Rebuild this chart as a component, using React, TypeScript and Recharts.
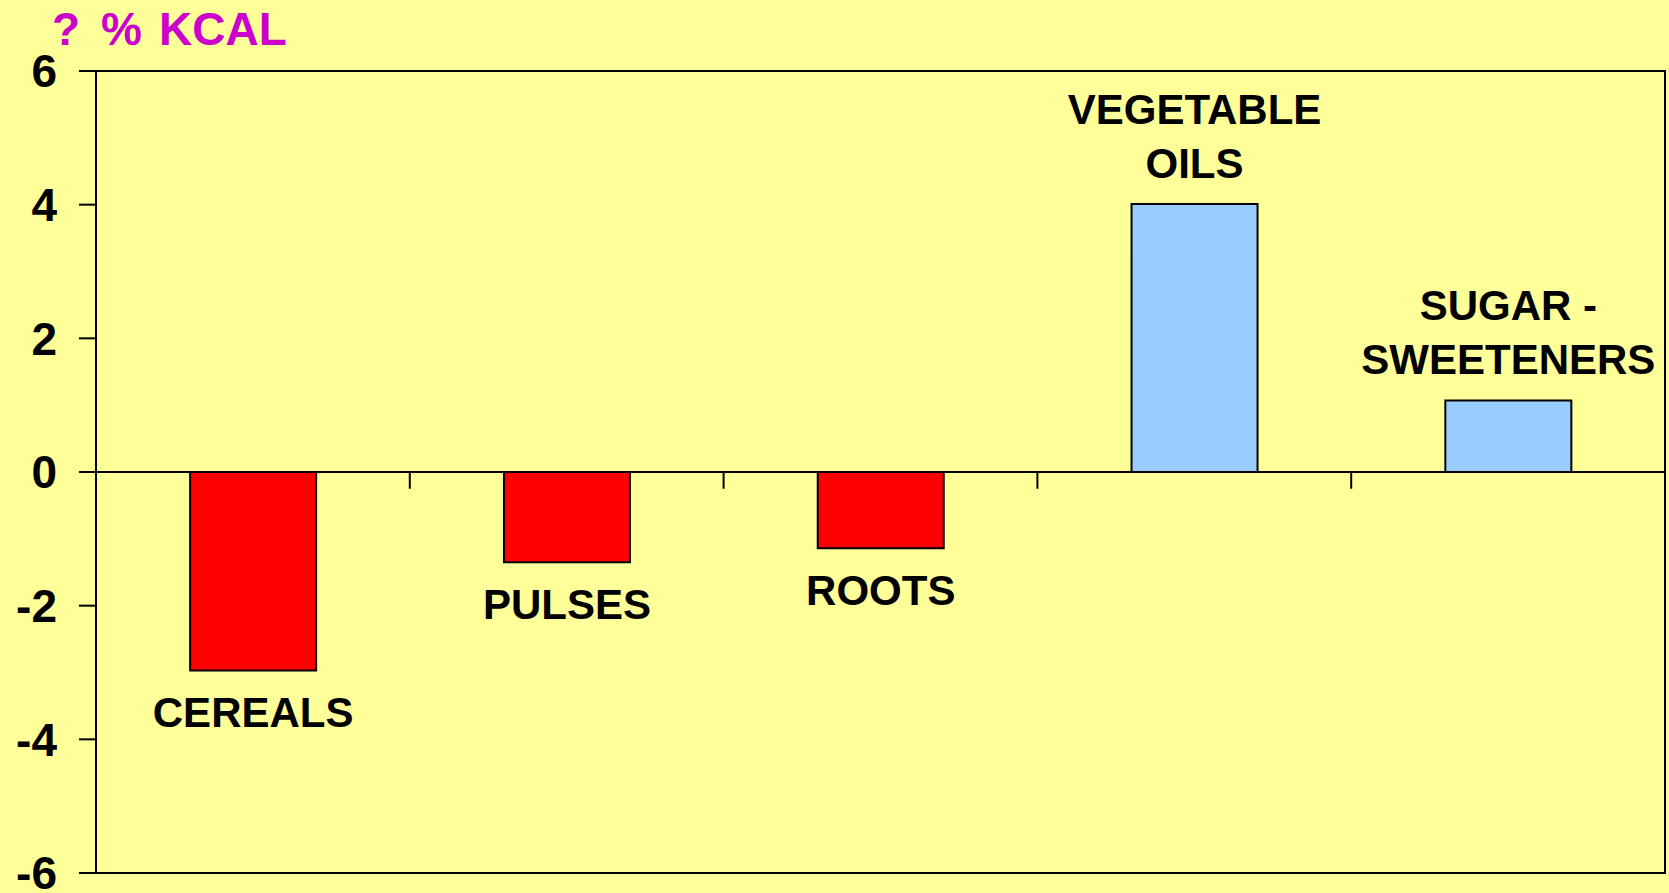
import { BarChart, Bar, XAxis, YAxis, Cell, LabelList, ReferenceLine, ReferenceArea } from 'recharts';

const CATEGORIES = ['CEREALS', 'PULSES', 'ROOTS', 'VEGETABLE OILS', 'SUGAR - SWEETENERS'];
const LABEL_LINES = [['CEREALS'], ['PULSES'], ['ROOTS'], ['VEGETABLE', 'OILS'], ['SUGAR -', 'SWEETENERS']];
const CHANGE_KCAL = [-2.97, -1.35, -1.14, 4.01, 1.07];
const Y_TICKS = [-6, -4, -2, 0, 2, 4, 6];
const CATEGORY_BOUNDS = [1, 2, 3, 4];

const FONT = '"Liberation Sans", Arial, sans-serif';
const BG = '#FFFF99';

const data = CATEGORIES.map((name, i) => ({ name, value: CHANGE_KCAL[i] }));

function BarLabel(props: any) {
  const { x, y, width, height, index } = props;
  const lines = LABEL_LINES[index];
  const top = Math.min(y, y + height);
  const bottom = Math.max(y, y + height);
  const cx = x + width / 2;
  const negative = CHANGE_KCAL[index] < 0;
  return (
    <g>
      {lines.map((line, i) => {
        const baseline = negative
          ? bottom + 57 + i * 54
          : top - 26 - (lines.length - 1 - i) * 54;
        return (
          <text key={line} x={cx} y={baseline} textAnchor="middle" fontFamily={FONT} fontWeight="bold" fontSize={42} fill="#000">
            {line}
          </text>
        );
      })}
    </g>
  );
}

export default function App() {
  return (
    <div style={{ position: 'absolute', left: 0, top: 0, width: 1669, height: 893, background: BG, overflow: 'hidden' }}>
      <svg width={400} height={70} style={{ position: 'absolute', left: 0, top: 0 }}>
        <text y={45} fontFamily={FONT} fontWeight="bold" fontSize={46} fill="#CC00CC">
          <tspan x={52}>?</tspan>
          <tspan x={101}>%</tspan>
          <tspan x={159}>KCAL</tspan>
        </text>
      </svg>
      <BarChart
        width={1669}
        height={893}
        data={data}
        margin={{ top: 71, right: 4, bottom: 20, left: 0 }}
        barCategoryGap="30%"
        style={{ position: 'absolute', left: 0, top: 0 }}
      >
        <XAxis xAxisId="cat" dataKey="name" hide />
        <XAxis xAxisId="num" type="number" dataKey={() => 0} domain={[0, 5]} allowDataOverflow hide />
        <YAxis
          width={96}
          domain={[-6, 6]}
          ticks={Y_TICKS}
          interval={0}
          allowDataOverflow
          tickSize={17}
          tickMargin={22}
          axisLine={{ stroke: '#000', strokeWidth: 2 }}
          tickLine={{ stroke: '#000', strokeWidth: 2 }}
          tick={{ fill: '#000', fontFamily: FONT, fontWeight: 'bold', fontSize: 46 }}
        />
        <ReferenceArea xAxisId="num" x1={0} x2={5} y1={-6} y2={6} fill="none" fillOpacity={0} stroke="#000" strokeWidth={2} ifOverflow="visible" />
        <ReferenceLine xAxisId="num" y={0} stroke="#000" strokeWidth={2} />
        {CATEGORY_BOUNDS.map((b) => (
          <ReferenceLine
            key={b}
            xAxisId="num"
            segment={[{ x: b, y: 0 }, { x: b, y: -0.25 }]}
            stroke="#000"
            strokeWidth={2}
          />
        ))}
        <Bar xAxisId="cat" dataKey="value" stroke="#000" strokeWidth={2} isAnimationActive={false}>
          {data.map((d) => (
            <Cell key={d.name} fill={d.value < 0 ? '#FF0000' : '#99CCFF'} />
          ))}
          <LabelList dataKey="value" content={BarLabel} />
        </Bar>
      </BarChart>
    </div>
  );
}
